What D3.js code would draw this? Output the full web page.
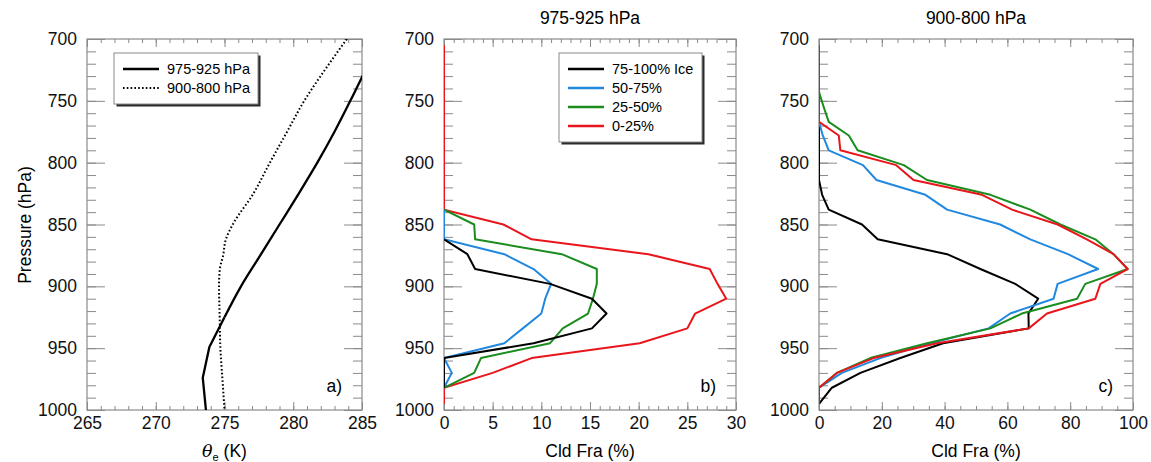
<!DOCTYPE html>
<html>
<head>
<meta charset="utf-8">
<script src="https://cdn.jsdelivr.net/npm/d3@7"></script>
<style>
  body { margin: 0; background: #fff; }
  svg { font-family: "Liberation Sans", Arial, Helvetica, sans-serif; }
</style>
</head>
<body>
<svg id="chart" width="1151" height="462"></svg>
<script>
// ---- data ----
// panel a: equivalent potential temperature profiles
const presA_solid = [725, 750, 775, 800, 825, 850, 875, 900, 925, 949, 974, 1000];
const thetaSolid = [285.25, 284.15, 283.0, 281.75, 280.4, 279.0, 277.6, 276.2, 275.0, 273.9, 273.42, 273.65];
const presA_dot = [700, 725, 750, 775, 800, 825, 850, 862, 875, 887, 900, 925, 950, 975, 1000];
const thetaDot = [283.9, 282.3, 280.8, 279.55, 278.3, 277.1, 275.6, 275.1, 274.9, 274.65, 274.6, 274.65, 274.7, 274.85, 275.0];

// panels b, c: cloud fraction by model level
const levels = [705, 718, 731, 743, 755, 767, 778, 790, 802, 814, 826, 838, 850, 862, 874, 886, 898, 910, 922, 934, 946, 958, 970, 982, 995];
const n = null;
// 975-925 hPa
const b_ice = [n, n, n, n, n, n, n, n, n, n, n, n, n, 0, 2.4, 3.2, 10.9, 15.2, 16.7, 15.2, 9.2, 0, 0, 0, n];
const b_50 = [n, n, n, n, n, n, n, n, n, n, n, 0, 0, 0, 6.2, 9.2, 11.0, 10.4, 10.0, 8.1, 6.2, 0, 0.8, 0, n];
const b_25 = [n, n, n, n, n, n, n, n, n, n, n, 0, 3.1, 3.2, 12.1, 15.7, 15.7, 15.3, 14.8, 12.2, 10.9, 3.8, 3.1, 0, n];
const b_0 = [0, 0, 0, 0, 0, 0, 0, 0, 0, 0, 0, 0, 6.1, 9.0, 21.0, 27.3, 28.1, 29.0, 25.8, 25.0, 20.1, 9.0, 5.0, 0, 0];
// 900-800 hPa
const c_ice = [n, n, n, n, n, 0, 0, 0, 0, 0, 1.0, 3.1, 13.7, 18.7, 40.8, 51.4, 62.5, 69.8, 66.7, 66.8, 39.5, 25.9, 13.2, 4.1, 0];
const c_50 = [n, n, n, n, n, 0, 1.2, 3.1, 14.0, 18.3, 33.9, 40.8, 57.7, 67.3, 79.3, 88.9, 76.0, 74.7, 60.9, 54.0, 35.5, 19.5, 7.3, 0, n];
const c_25 = [n, n, n, 0, 1.5, 3.1, 9.5, 12.3, 27.0, 34.4, 54.6, 67.3, 76.9, 88.0, 93.8, 98.3, 84.8, 82.2, 64.6, 54.6, 34.4, 16.3, 5.7, 0, n];
const c_0 = [0, 0, 0, 0, 0, 0, 6.3, 6.8, 24.6, 30.1, 51.9, 61.5, 76.0, 85.3, 93.8, 98.3, 89.6, 88.0, 72.6, 66.8, 37.6, 17.4, 5.7, 0, 0];

const iceNames = ['75-100% Ice', '50-75%', '25-50%', '0-25%'];
const iceColors = ['#000000', '#2188e0', '#1b8c1e', '#e8161c'];
const profileNames = ['975-925 hPa', '900-800 hPa'];

const yMajor = d3.range(700, 1001, 50);
const yMinor = d3.range(700, 1001, 10);

const svg = d3.select('#chart');
const plotTop = 39, plotBottom = 410;
const y = d3.scaleLinear().domain([700, 1000]).range([plotTop, plotBottom]);

function drawPanel(opts) {
  const x = d3.scaleLinear().domain(opts.xDomain).range([opts.x0, opts.x1]);
  const g = svg.append('g');
  const grey = '#8a8a8a';

  const clipId = 'clip' + opts.id;
  svg.append('clipPath').attr('id', clipId)
    .append('rect')
      .attr('x', opts.x0).attr('y', plotTop)
      .attr('width', opts.x1 - opts.x0).attr('height', plotBottom - plotTop);

  // ticks, all pointing inward
  const addAxis = (axis, tx, ty, labels) => {
    const a = g.append('g')
      .attr('transform', `translate(${tx},${ty})`)
      .call(axis.tickFormat(d3.format('d')));
    a.select('.domain').remove();
    a.selectAll('line').attr('stroke', grey).attr('stroke-width', 1);
    if (!labels) a.selectAll('text').remove();
    else a.selectAll('text').attr('fill', '#111').style('font-size', '17.5px');
    a.attr('font-family', null).attr('font-size', null);
    return a;
  };

  addAxis(d3.axisLeft(y).tickValues(yMinor).tickSize(-9), opts.x0, 0, false);
  addAxis(d3.axisLeft(y).tickValues(yMajor).tickSize(-18).tickPadding(10), opts.x0, 0, true);
  addAxis(d3.axisRight(y).tickValues(yMinor).tickSize(-9), opts.x1, 0, false);
  addAxis(d3.axisRight(y).tickValues(yMajor).tickSize(-18), opts.x1, 0, false);

  addAxis(d3.axisBottom(x).tickValues(opts.xMinor).tickSize(-4), 0, plotBottom, false);
  addAxis(d3.axisBottom(x).tickValues(opts.xMajor).tickSize(-8).tickPadding(7), 0, plotBottom, true);
  addAxis(d3.axisTop(x).tickValues(opts.xMinor).tickSize(-4), 0, plotTop, false);
  addAxis(d3.axisTop(x).tickValues(opts.xMajor).tickSize(-8), 0, plotTop, false);

  g.append('rect')
    .attr('x', opts.x0).attr('y', plotTop)
    .attr('width', opts.x1 - opts.x0).attr('height', plotBottom - plotTop)
    .attr('fill', 'none').attr('stroke', grey).attr('stroke-width', 1.2);

  const lines = g.append('g').attr('clip-path', `url(#${clipId})`);
  opts.series.forEach(s => {
    const pts = s.values.map((v, i) => [v, s.pres[i]]);
    // smooth part above s.smoothTo (hPa), straight segments below it
    const parts = s.smoothTo
      ? [[pts.filter(d => d[1] <= s.smoothTo), d3.curveMonotoneY],
         [pts.filter(d => d[1] >= s.smoothTo), d3.curveLinear]]
      : [[pts, s.smooth ? d3.curveMonotoneY : d3.curveLinear]];
    parts.forEach(([data, curve]) => {
      const line = d3.line()
        .defined(d => d[0] !== null)
        .curve(curve)
        .x(d => x(d[0]))
        .y(d => y(d[1]));
      lines.append('path')
        .datum(data)
        .attr('d', line)
        .attr('fill', 'none')
        .attr('stroke', s.color)
        .attr('stroke-width', s.width || 2)
        .attr('stroke-dasharray', s.dash || null)
        .attr('stroke-linejoin', 'round');
    });
  });

  // panel letter
  g.append('text')
    .attr('x', opts.x1 - 20).attr('y', 392)
    .attr('text-anchor', 'end')
    .style('font-size', '17.5px')
    .text(opts.letter);

  if (opts.title) {
    g.append('text')
      .attr('x', (opts.x0 + opts.x1) / 2).attr('y', 24)
      .attr('text-anchor', 'middle')
      .style('font-size', '17.5px')
      .text(opts.title);
  }

  // x title
  const xt = g.append('text')
    .attr('x', (opts.x0 + opts.x1) / 2).attr('y', 457)
    .attr('text-anchor', 'middle')
    .style('font-size', '17.5px');
  if (opts.theta) {
    xt.append('tspan').attr('font-family', '"DejaVu Serif", "Liberation Serif", serif')
      .attr('font-style', 'italic').text('θ');
    xt.append('tspan').attr('dy', 4).style('font-size', '11px').text('e');
    xt.append('tspan').attr('dy', -4).text(' (K)');
  } else {
    xt.text(opts.xTitle);
  }

  if (opts.legend) {
    const L = opts.legend;
    const lg = g.append('g');
    lg.append('rect')
      .attr('x', L.x + 2.5).attr('y', L.y + 2.5).attr('width', L.w).attr('height', L.h)
      .attr('fill', '#2a2a2a');
    lg.append('rect')
      .attr('x', L.x).attr('y', L.y).attr('width', L.w).attr('height', L.h)
      .attr('fill', '#fff').attr('stroke', grey).attr('stroke-width', 1);
    L.items.forEach((it, i) => {
      const yy = L.y + 16 + i * 19;
      lg.append('line')
        .attr('x1', L.x + 9).attr('x2', L.x + 45)
        .attr('y1', yy).attr('y2', yy)
        .attr('stroke', it.color).attr('stroke-width', it.width || 2.5)
        .attr('stroke-dasharray', it.dash || null);
      lg.append('text')
        .attr('x', L.x + 53).attr('y', yy + 5)
        .style('font-size', '14.5px')
        .text(it.name);
    });
  }
}

// panel a
drawPanel({
  id: 'a', x0: 87, x1: 362,
  xDomain: [265, 285],
  xMajor: d3.range(265, 286, 5), xMinor: d3.range(265, 286, 1),
  letter: 'a)', theta: true,
  series: [
    { pres: presA_solid, values: thetaSolid, color: '#000', width: 2.3, smoothTo: 925 },
    { pres: presA_dot, values: thetaDot, color: '#000', width: 2, dash: '1.6,2.2', smooth: true }
  ],
  legend: {
    x: 114, y: 53, w: 144, h: 51,
    items: [
      { name: profileNames[0], color: '#000', width: 2.3 },
      { name: profileNames[1], color: '#000', width: 2, dash: '1.6,2.2' }
    ]
  }
});

// panel b
drawPanel({
  id: 'b', x0: 444, x1: 736,
  xDomain: [0, 30],
  xMajor: d3.range(0, 31, 5), xMinor: d3.range(0, 31, 1),
  letter: 'b)', title: profileNames[0], xTitle: 'Cld Fra (%)',
  series: [b_0, b_25, b_50, b_ice].map((v, i) => ({ pres: levels, values: v, color: iceColors[3 - i] })),
  legend: {
    x: 559, y: 53, w: 143, h: 89,
    items: iceNames.map((nm, i) => ({ name: nm, color: iceColors[i] }))
  }
});

// panel c
drawPanel({
  id: 'c', x0: 819, x1: 1133,
  xDomain: [0, 100],
  xMajor: d3.range(0, 101, 20), xMinor: d3.range(0, 101, 5),
  letter: 'c)', title: profileNames[1], xTitle: 'Cld Fra (%)',
  series: [c_ice, c_50, c_25, c_0].map((v, i) => ({ pres: levels, values: v, color: iceColors[i] }))
});

// shared y title
svg.append('text')
  .attr('transform', 'translate(31,225) rotate(-90)')
  .attr('text-anchor', 'middle')
  .style('font-size', '17.5px')
  .text('Pressure (hPa)');
</script>
</body>
</html>
